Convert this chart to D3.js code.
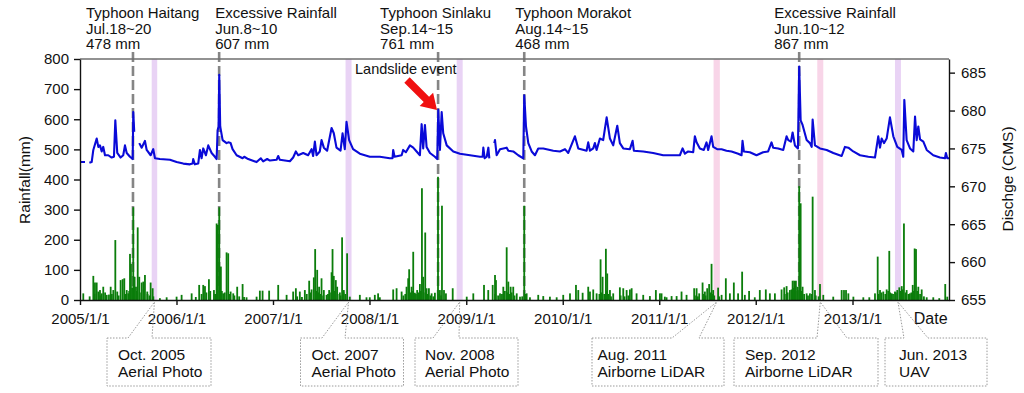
<!DOCTYPE html>
<html>
<head>
<meta charset="utf-8">
<script src="https://cdn.jsdelivr.net/npm/d3@7"></script>
<style>
  body { margin: 0; background: #fff; }
  svg { font-family: "Liberation Sans", Arial, sans-serif; }
  .axis text { font-size: 15px; fill: #111; }
  .axis path, .axis line { stroke: #111; stroke-width: 1.4; }
</style>
</head>
<body>
<svg id="chart"></svg>
<script>
// ---- data (decimal year, value) ----
const xTicks = [2005, 2006, 2007, 2008, 2009, 2010, 2011, 2012, 2013];
const xTickLabels = ['2005/1/1', '2006/1/1', '2007/1/1', '2008/1/1', '2009/1/1',
  '2010/1/1', '2011/1/1', '2012/1/1', '2013/1/1'];
const rainTicks = [0, 100, 200, 300, 400, 500, 600, 700, 800];
const dischargeTicks = [655, 660, 665, 670, 675, 680, 685];

// daily rainfall (mm)
const rainfall = [
  [2005.034,22],[2005.138,80],[2005.155,58],[2005.173,58],[2005.190,28],[2005.207,33],[2005.225,22],[2005.241,44],
  [2005.277,17],[2005.318,44],[2005.345,33],[2005.366,199],[2005.386,28],[2005.421,66],[2005.442,69],[2005.459,72],
  [2005.484,33],[2005.500,22],[2005.518,153],[2005.528,120],[2005.552,308],[2005.566,77],[2005.580,44],[2005.598,241],
  [2005.614,77],[2005.639,58],[2005.656,61],[2005.673,83],[2005.697,28],[2005.732,58],[2005.753,39],[2005.828,6],
  [2005.898,9],[2006.001,11],[2006.053,17],[2006.157,22],[2006.235,50],[2006.277,50],[2006.295,46],[2006.336,69],
  [2006.388,33],[2006.416,254],[2006.429,249],[2006.443,308],[2006.460,111],[2006.484,22],[2006.519,158],[2006.536,155],
  [2006.561,28],[2006.588,22],[2006.629,44],[2006.685,53],[2006.726,9],[2006.830,11],[2006.864,31],[2006.892,31],
  [2006.960,31],[2007.054,50],[2007.141,17],[2007.209,28],[2007.237,39],[2007.278,28],[2007.330,33],[2007.375,64],
  [2007.400,35],[2007.423,75],[2007.437,169],[2007.458,100],[2007.478,44],[2007.503,72],[2007.527,33],[2007.555,17],
  [2007.582,33],[2007.607,92],[2007.617,169],[2007.630,80],[2007.651,66],[2007.665,44],[2007.693,25],[2007.716,208],
  [2007.734,33],[2007.768,155],[2007.796,11],[2007.900,17],[2007.969,9],[2008.003,9],[2008.055,17],[2008.089,22],
  [2008.107,9],[2008.245,35],[2008.280,39],[2008.332,28],[2008.383,44],[2008.400,72],[2008.410,102],[2008.435,44],
  [2008.452,160],[2008.469,24],[2008.493,33],[2008.521,53],[2008.542,371],[2008.555,77],[2008.576,224],[2008.590,39],
  [2008.614,39],[2008.642,22],[2008.676,24],[2008.708,409],[2008.728,33],[2008.749,313],[2008.770,33],[2008.790,22],
  [2008.860,39],[2009.005,11],[2009.073,22],[2009.184,50],[2009.228,33],[2009.274,50],[2009.298,83],[2009.308,66],
  [2009.350,22],[2009.384,44],[2009.419,175],[2009.436,61],[2009.460,44],[2009.487,44],[2009.523,22],[2009.557,11],
  [2009.601,313],[2009.626,22],[2009.660,9],[2009.746,17],[2009.798,13],[2009.867,11],[2009.937,9],[2010.005,17],
  [2010.075,22],[2010.137,50],[2010.161,33],[2010.206,24],[2010.264,44],[2010.282,28],[2010.316,35],[2010.351,22],
  [2010.392,135],[2010.413,77],[2010.447,170],[2010.461,88],[2010.489,33],[2010.523,22],[2010.592,42],[2010.627,39],
  [2010.662,33],[2010.696,35],[2010.714,39],[2010.765,22],[2010.834,17],[2010.903,13],[2010.965,33],[2011.007,22],
  [2011.024,22],[2011.058,11],[2011.076,9],[2011.128,13],[2011.180,13],[2011.231,28],[2011.283,17],[2011.362,39],
  [2011.387,39],[2011.414,22],[2011.449,58],[2011.473,28],[2011.497,39],[2011.517,53],[2011.542,120],[2011.559,33],
  [2011.610,41],[2011.646,17],[2011.690,72],[2011.732,22],[2011.773,58],[2011.817,22],[2011.859,94],[2011.887,17],
  [2011.931,30],[2011.990,9],[2012.042,33],[2012.104,35],[2012.146,22],[2012.198,22],[2012.267,35],[2012.294,42],
  [2012.319,46],[2012.353,33],[2012.381,64],[2012.397,64],[2012.415,64],[2012.433,44],[2012.449,378],[2012.464,321],
  [2012.484,44],[2012.526,22],[2012.560,22],[2012.588,343],[2012.612,33],[2012.664,53],[2012.698,17],[2012.801,11],
  [2012.888,33],[2012.912,33],[2012.933,33],[2012.957,22],[2013.009,11],[2013.112,9],[2013.174,9],[2013.233,22],
  [2013.261,144],[2013.285,33],[2013.319,28],[2013.354,35],[2013.381,163],[2013.406,22],[2013.440,28],[2013.464,33],
  [2013.485,42],[2013.510,46],[2013.533,254],[2013.561,33],[2013.595,22],[2013.624,50],[2013.644,171],[2013.658,169],
  [2013.682,44],[2013.717,35],[2013.769,9],[2013.837,9],[2013.899,6],[2013.961,53],[2013.982,11],
  // smaller rain days filling the wet seasons
  [2005.100,12],[2005.150,20],[2005.210,15],[2005.260,25],[2005.300,18],[2005.330,20],[2005.400,15],[2005.470,20],
  [2005.510,30],[2005.540,40],[2005.590,30],[2005.620,25],[2005.660,35],[2005.700,20],[2005.720,15],[2005.760,12],
  [2006.200,10],[2006.260,20],[2006.310,25],[2006.350,30],[2006.400,20],[2006.450,40],[2006.470,30],[2006.500,25],
  [2006.550,20],[2006.600,15],[2006.650,12],[2006.700,10],[2007.250,12],[2007.300,10],[2007.350,20],[2007.390,25],
  [2007.450,30],[2007.470,25],[2007.490,20],[2007.520,15],[2007.570,20],[2007.590,25],[2007.640,30],[2007.670,20],
  [2007.700,15],[2007.730,25],[2007.750,20],[2008.350,15],[2008.370,20],[2008.420,25],[2008.440,30],[2008.480,20],
  [2008.510,25],[2008.530,30],[2008.560,25],[2008.600,20],[2008.630,15],[2008.660,12],[2008.720,20],[2008.740,15],
  [2009.300,20],[2009.330,15],[2009.370,20],[2009.400,30],[2009.430,25],[2009.450,20],[2009.470,25],[2009.500,15],
  [2009.580,12],[2009.610,20],[2010.380,20],[2010.400,25],[2010.430,20],[2010.450,30],[2010.470,20],[2010.500,12],
  [2010.600,15],[2010.640,12],[2010.680,15],[2011.370,15],[2011.400,12],[2011.460,20],[2011.480,15],[2011.530,25],
  [2011.550,20],[2011.570,15],[2011.620,12],[2012.300,20],[2012.330,25],[2012.370,35],[2012.390,40],[2012.410,45],
  [2012.430,30],[2012.470,30],[2012.500,20],[2012.540,15],[2012.580,20],[2012.620,15],[2012.650,12],[2013.270,20],
  [2013.300,25],[2013.340,20],[2013.370,30],[2013.390,25],[2013.420,20],[2013.450,25],[2013.500,30],[2013.520,35],
  [2013.550,25],[2013.580,20],[2013.610,25],[2013.630,30],[2013.670,30],[2013.700,20],[2013.740,12]
];

// discharge (CMS), null = missing record
const discharge = [
  [2005.000,673.2],[2005.052,673.2],[2005.070,null],[2005.097,673.1],[2005.121,673.2],[2005.138,674.8],[2005.173,676.3],
  [2005.190,675.2],[2005.207,675.4],[2005.225,674.6],[2005.241,675.2],[2005.259,674.1],[2005.293,674.1],[2005.328,673.8],
  [2005.352,673.9],[2005.366,678.7],[2005.386,674.4],[2005.421,673.8],[2005.448,674.1],[2005.466,675.4],[2005.484,674.4],
  [2005.518,673.9],[2005.546,673.6],[2005.552,679.8],[2005.562,677.2],[2005.590,null],[2005.614,675.7],[2005.639,675.1],
  [2005.673,676.0],[2005.691,674.8],[2005.732,674.1],[2005.759,674.9],[2005.777,673.7],[2005.828,673.6],[2005.932,673.5],
  [2006.001,673.2],[2006.070,673.0],[2006.139,672.9],[2006.167,673.0],[2006.173,673.6],[2006.191,672.9],[2006.225,673.0],
  [2006.243,674.8],[2006.260,673.7],[2006.277,675.0],[2006.305,674.1],[2006.329,675.4],[2006.364,674.4],[2006.398,673.9],
  [2006.416,673.6],[2006.426,677.4],[2006.436,677.9],[2006.443,684.7],[2006.453,677.9],[2006.478,676.1],[2006.519,675.7],
  [2006.536,675.8],[2006.561,675.7],[2006.581,674.9],[2006.623,674.1],[2006.685,673.7],[2006.702,673.9],[2006.743,673.6],
  [2006.830,673.2],[2006.874,673.7],[2006.898,673.3],[2006.940,673.6],[2006.968,673.4],[2007.037,673.5],[2007.054,674.0],
  [2007.071,673.5],[2007.175,673.3],[2007.209,673.8],[2007.237,674.6],[2007.261,674.1],[2007.313,674.4],[2007.364,674.1],
  [2007.400,674.9],[2007.416,674.0],[2007.434,675.9],[2007.451,674.1],[2007.485,674.6],[2007.503,676.1],[2007.527,675.1],
  [2007.561,674.7],[2007.607,677.7],[2007.630,677.0],[2007.658,675.1],[2007.700,674.7],[2007.721,677.0],[2007.744,674.9],
  [2007.762,678.5],[2007.789,676.1],[2007.830,674.9],[2007.900,674.3],[2008.003,673.9],[2008.107,673.9],[2008.210,673.7],
  [2008.238,673.7],[2008.245,674.8],[2008.259,673.9],[2008.332,674.1],[2008.348,674.8],[2008.376,674.5],[2008.418,675.4],
  [2008.452,675.1],[2008.487,674.6],[2008.521,674.1],[2008.539,678.2],[2008.555,675.0],[2008.573,678.1],[2008.590,675.2],
  [2008.625,674.4],[2008.676,673.9],[2008.700,673.6],[2008.711,680.1],[2008.728,674.8],[2008.746,679.8],[2008.762,677.0],
  [2008.798,675.4],[2008.866,674.6],[2008.935,674.3],[2009.039,674.1],[2009.142,673.9],[2009.170,673.9],[2009.177,675.1],
  [2009.191,673.7],[2009.212,673.9],[2009.229,675.1],[2009.239,673.7],[2009.260,null],[2009.291,675.7],[2009.298,676.1],
  [2009.315,674.1],[2009.350,674.9],[2009.419,675.1],[2009.436,674.7],[2009.487,674.6],[2009.539,674.1],[2009.591,673.7],
  [2009.601,682.0],[2009.619,677.9],[2009.643,675.7],[2009.678,674.6],[2009.712,674.1],[2009.746,675.0],[2009.798,675.0],
  [2009.902,674.7],[2009.971,674.6],[2010.023,674.9],[2010.057,674.4],[2010.126,676.6],[2010.161,675.0],[2010.247,674.7],
  [2010.264,675.8],[2010.282,674.7],[2010.316,675.0],[2010.333,675.7],[2010.351,674.8],[2010.385,676.3],[2010.419,676.1],
  [2010.455,679.1],[2010.489,676.3],[2010.523,675.4],[2010.565,678.0],[2010.592,675.7],[2010.627,675.0],[2010.696,674.9],
  [2010.724,676.0],[2010.737,674.7],[2010.834,674.6],[2010.937,674.4],[2011.041,674.1],[2011.144,674.1],[2011.214,674.1],
  [2011.242,675.0],[2011.266,674.3],[2011.300,674.6],[2011.352,674.5],[2011.369,676.6],[2011.387,675.8],[2011.421,675.0],
  [2011.462,674.8],[2011.490,675.8],[2011.507,674.8],[2011.542,676.6],[2011.559,675.2],[2011.600,674.9],[2011.646,674.9],
  [2011.697,674.7],[2011.749,674.6],[2011.818,674.3],[2011.853,674.1],[2011.863,676.0],[2011.877,674.6],[2011.939,674.5],
  [2012.008,674.1],[2012.076,674.5],[2012.128,674.6],[2012.163,675.8],[2012.180,675.1],[2012.232,675.0],[2012.284,674.8],
  [2012.319,676.6],[2012.336,676.1],[2012.364,675.9],[2012.381,677.1],[2012.405,675.4],[2012.436,675.0],[2012.449,685.8],
  [2012.464,678.7],[2012.484,678.1],[2012.526,676.1],[2012.560,675.7],[2012.578,675.2],[2012.588,678.8],[2012.612,675.4],
  [2012.664,675.0],[2012.733,674.8],[2012.802,674.4],[2012.888,674.0],[2012.922,675.2],[2012.957,675.1],[2013.008,674.6],
  [2013.078,674.1],[2013.164,673.9],[2013.233,673.8],[2013.267,676.6],[2013.285,675.1],[2013.302,676.3],[2013.326,675.7],
  [2013.354,676.3],[2013.388,679.1],[2013.423,676.6],[2013.464,675.2],[2013.510,674.8],[2013.526,673.9],[2013.537,681.4],
  [2013.561,676.1],[2013.596,675.0],[2013.630,674.6],[2013.648,679.2],[2013.665,676.1],[2013.682,677.9],[2013.700,676.2],
  [2013.734,675.9],[2013.769,674.8],[2013.837,674.1],[2013.906,673.8],[2013.958,673.7],[2013.968,674.4],[2013.982,673.7],
  [2014.000,673.7]
];

// storm events (dashed lines + labels above the plot)
const eventDates = [2005.549, 2006.442, 2008.709, 2009.601, 2012.449];
const eventLabels = [
  ['Typhoon Haitang', 'Jul.18~20', '478 mm'],
  ['Excessive Rainfall', 'Jun.8~10', '607 mm'],
  ['Typhoon Sinlaku', 'Sep.14~15', '761 mm'],
  ['Typhoon Morakot', 'Aug.14~15', '468 mm'],
  ['Excessive Rainfall', 'Jun.10~12', '867 mm']
];
const eventLabelShift = [-47, -4, -58, -9, -25];

// image acquisitions (shaded bands + callouts)
const photoStart = [2005.743, 2007.752, 2008.901, 2011.563, 2012.636, 2013.440];
const photoEnd   = [2005.800, 2007.814, 2008.963, 2011.628, 2012.698, 2013.502];
const photoKind  = ['aerial', 'aerial', 'aerial', 'lidar', 'lidar', 'uav'];
const photoLabels = [
  ['Oct. 2005', 'Aerial Photo'],
  ['Oct. 2007', 'Aerial Photo'],
  ['Nov. 2008', 'Aerial Photo'],
  ['Aug. 2011', 'Airborne LiDAR'],
  ['Sep. 2012', 'Airborne LiDAR'],
  ['Jun. 2013', 'UAV']
];

// ---- layout ----
const width = 1024, height = 393;
const margin = {top: 59, right: 75, bottom: 93, left: 80};
const innerW = width - margin.left - margin.right;
const innerH = height - margin.top - margin.bottom;

function toDate(y) {
  const yr = Math.floor(y);
  const a = new Date(yr, 0, 1), b = new Date(yr + 1, 0, 1);
  return new Date(+a + (y - yr) * (b - a));
}

const svg = d3.select('#chart').attr('width', width).attr('height', height);
const g = svg.append('g').attr('transform', `translate(${margin.left},${margin.top})`);

const x = d3.scaleTime().domain([toDate(2005), toDate(2014)]).range([0, innerW]);
const yRain = d3.scaleLinear().domain([0, 800]).range([innerH, 0]);
const yQ = d3.scaleLinear().domain([655, 686.8]).range([innerH, 0]);

const bandColor = {aerial: '#e9d3f5', lidar: '#f8d5e8', uav: '#e9d3f5'};

// shaded bands
g.selectAll('rect.band')
  .data(photoStart.map((d, i) => i))
  .join('rect')
    .attr('class', 'band')
    .attr('x', i => x(toDate(photoStart[i])))
    .attr('width', i => x(toDate(photoEnd[i])) - x(toDate(photoStart[i])))
    .attr('y', 0)
    .attr('height', innerH)
    .attr('fill', i => bandColor[photoKind[i]]);

// event dashed lines
g.selectAll('line.event')
  .data(eventDates)
  .join('line')
    .attr('class', 'event')
    .attr('x1', d => x(toDate(d))).attr('x2', d => x(toDate(d)))
    .attr('y1', -7).attr('y2', innerH)
    .attr('stroke', '#858585')
    .attr('stroke-width', 2.6)
    .attr('stroke-dasharray', '10,4');

// rainfall bars
g.selectAll('rect.rain')
  .data(rainfall)
  .join('rect')
    .attr('class', 'rain')
    .attr('x', d => x(toDate(d[0])) - 0.9)
    .attr('width', 1.8)
    .attr('y', d => yRain(d[1]))
    .attr('height', d => innerH - yRain(d[1]))
    .attr('fill', '#0b7d0b');

// discharge line
const line = d3.line()
  .defined(d => d[1] !== null)
  .x(d => x(toDate(d[0])))
  .y(d => yQ(d[1]));

g.append('path')
  .datum(discharge)
  .attr('d', line)
  .attr('fill', 'none')
  .attr('stroke', '#0a0ad8')
  .attr('stroke-width', 2.1)
  .attr('stroke-linejoin', 'round');

// frame top
g.append('line')
  .attr('x1', 0).attr('x2', innerW).attr('y1', 0).attr('y2', 0)
  .attr('stroke', '#6e6e6e').attr('stroke-width', 1.6);

// axes
const xAxis = d3.axisBottom(x)
  .tickValues(xTicks.map(toDate))
  .tickFormat((d, i) => xTickLabels[i])
  .tickSize(5).tickSizeOuter(0).tickPadding(8);
g.append('g').attr('class', 'axis')
  .attr('transform', `translate(0,${innerH})`)
  .call(xAxis);

g.append('g').attr('class', 'axis')
  .call(d3.axisLeft(yRain).tickValues(rainTicks).tickSize(6).tickSizeOuter(0).tickPadding(5));

g.append('g').attr('class', 'axis')
  .attr('transform', `translate(${innerW},0)`)
  .call(d3.axisRight(yQ).tickValues(dischargeTicks).tickSize(6).tickSizeOuter(0).tickPadding(6));

g.append('text')
  .attr('x', x(toDate(2013.81))).attr('y', innerH + 24)
  .attr('text-anchor', 'middle').attr('font-size', 16).attr('fill', '#111')
  .text('Date');

// axis titles
svg.append('text')
  .attr('transform', 'translate(30,180) rotate(-90)')
  .attr('text-anchor', 'middle').attr('font-size', 15.5).attr('fill', '#111')
  .text('Rainfall(mm)');
svg.append('text')
  .attr('transform', 'translate(1013,179) rotate(-90)')
  .attr('text-anchor', 'middle').attr('font-size', 15.5).attr('fill', '#111')
  .text('Dischge (CMS)');

// event labels
eventLabels.forEach((lines, i) => {
  const t = svg.append('text')
    .attr('font-size', 15).attr('fill', '#111');
  lines.forEach((s, j) => {
    t.append('tspan')
      .attr('x', margin.left + x(toDate(eventDates[i])) + eventLabelShift[i])
      .attr('y', 18 + j * 15.5)
      .text(s);
  });
});

// landslide arrow
const tail = [407, 80], tip = [437, 110];
const dx = tip[0] - tail[0], dy = tip[1] - tail[1], len = Math.hypot(dx, dy);
const ux = dx / len, uy = dy / len, nx = -uy, ny = ux;
const headL = 15, shaftW = 3.8, headW = 9.5;
const neck = [tip[0] - ux * headL, tip[1] - uy * headL];
const arrowPts = [
  [tail[0] + nx * shaftW, tail[1] + ny * shaftW],
  [neck[0] + nx * shaftW, neck[1] + ny * shaftW],
  [neck[0] + nx * headW, neck[1] + ny * headW],
  tip,
  [neck[0] - nx * headW, neck[1] - ny * headW],
  [neck[0] - nx * shaftW, neck[1] - ny * shaftW],
  [tail[0] - nx * shaftW, tail[1] - ny * shaftW]
];
svg.append('polygon')
  .attr('points', arrowPts.map(p => p.join(',')).join(' '))
  .attr('fill', '#f01010');
svg.append('text')
  .attr('x', 355).attr('y', 74)
  .attr('font-size', 14.5).attr('fill', '#111')
  .text('Landslide event');

// callouts below the axis
const boxLeft  = [107, 300.5, 415, 592, 734, 885];
const boxRight = [211, 403.5, 518, 724, 878, 987];
const baseL    = [128, 322, 433, 672, 817, 904];
const baseR    = [152, 345, 459, 699, 847, 928];
const textX    = [118, 311.5, 425, 597.5, 745, 899];
const boxTop = 338, boxBottom = 386, apexY = 302;

photoLabels.forEach((lines, i) => {
  const apexX = margin.left + (x(toDate(photoStart[i])) + x(toDate(photoEnd[i]))) / 2;
  const pts = [
    [boxLeft[i], boxTop], [baseL[i], boxTop], [apexX, apexY], [baseR[i], boxTop],
    [boxRight[i], boxTop], [boxRight[i], boxBottom], [boxLeft[i], boxBottom]
  ];
  svg.append('path')
    .attr('d', d3.line()(pts) + 'Z')
    .attr('fill', 'none')
    .attr('stroke', '#9a9a9a')
    .attr('stroke-width', 1)
    .attr('stroke-dasharray', '1.5,1.5');
  const t = svg.append('text').attr('font-size', 15.5).attr('fill', '#111');
  lines.forEach((s, j) => {
    t.append('tspan').attr('x', textX[i]).attr('y', 360 + j * 17).text(s);
  });
});
</script>
</body>
</html>
